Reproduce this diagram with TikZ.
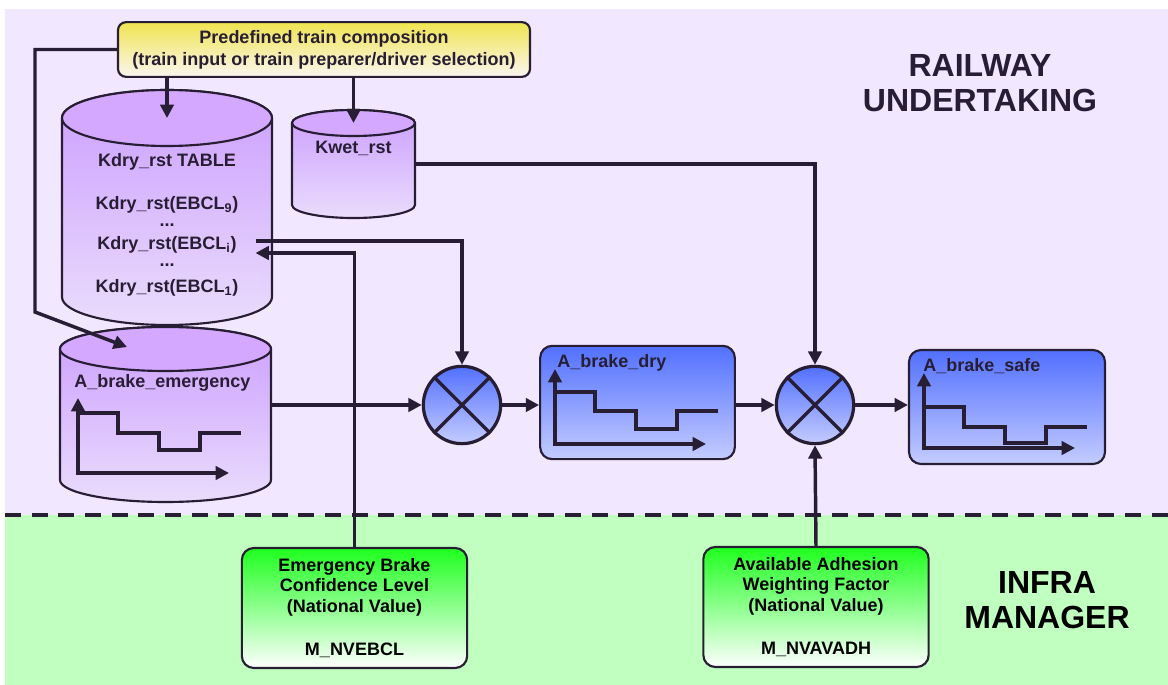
\documentclass[tikz,border=0pt]{standalone}
\usepackage{fontspec}
\setmainfont{Liberation Sans}
\usetikzlibrary{arrows.meta,calc}
\definecolor{ink}{RGB}{40,30,52}
\definecolor{lavbg}{RGB}{241,231,254}
\definecolor{greenbg}{RGB}{192,255,192}
\definecolor{drumtop}{RGB}{204,158,255}
\definecolor{drumbot}{RGB}{234,220,252}
\definecolor{drumlid}{RGB}{212,168,255}
\definecolor{bluetop}{RGB}{82,112,255}
\definecolor{bluebot}{RGB}{196,204,255}
\definecolor{nvtop}{RGB}{30,255,30}
\definecolor{comptop}{RGB}{240,228,80}
\definecolor{compbot}{RGB}{250,246,240}

% drum: name, left x, lid centre y, width, height between lids, lid radius
\newcommand\drum[6]{%
  \node[inner sep=0pt,outer sep=0pt,minimum width=#4*0.75pt,minimum height=#5*0.75pt,
    anchor=north west] (#1) at (#2,#3) {};
  \path[rim,top color=drumtop,bottom color=drumbot] (#1.north west) -- (#1.south west)
    arc[start angle=180,end angle=360,x radius=#4*0.375pt,y radius=#6*0.75pt]
    -- (#1.north east)
    arc[start angle=0,end angle=180,x radius=#4*0.375pt,y radius=#6*0.75pt] -- cycle;
  \draw[rim,fill=drumlid] (#1.north) ellipse[x radius=#4*0.375pt,y radius=#6*0.75pt];}
% step curve: origin, three levels
\newcommand\brakecurve[4]{%
  \draw[axis,<->] ($(#1)+(0,-75)$) |- ($(#1)+(151,0)$);
  \draw[axis] ($(#1)+(0,#2)$) -- ++(40,0) |- ($(#1)+(81,#3)$) |- ($(#1)+(122,#4)$)
    |- ($(#1)+(163,#3)$);}

\begin{document}
\begin{tikzpicture}[x=0.75pt,y=-0.75pt,
  >={Triangle[length=10pt,width=10pt]},
  every node/.style={font=\fontsize{13.5}{15.5}\selectfont\bfseries,text=ink},
  rim/.style={draw=ink,line width=1.6pt},
  flow/.style={draw=ink,line width=2.6pt,->},
  axis/.style={draw=ink,line width=2.6pt},
  curvebox/.style={rim,rounded corners=9pt,top color=bluetop,bottom color=bluebot,inner sep=0pt},
  nvbox/.style={rim,rounded corners=9pt,top color=nvtop,bottom color=white,align=center,
    text=black,minimum width=169pt,minimum height=90pt},
  mult/.style={circle,rim,line width=2.4pt,top color=bluetop,bottom color=bluebot,minimum size=58pt}]
\useasboundingbox (0,0) rectangle (1168,685);
\fill[lavbg] (5,9) rectangle (1168,515);
\fill[greenbg] (5,515) rectangle (1168,685);
\draw[ink,line width=2.6pt,dash pattern=on 12pt off 8pt] (5,515) -- (1168,515);

\node[align=center,font=\fontsize{24}{26}\selectfont\bfseries] (ru) at (980,83) {RAILWAY\\UNDERTAKING};
\node[align=center,font=\fontsize{24}{26}\selectfont\bfseries,text=black] (im) at (1047,600) {INFRA\\MANAGER};

\node[rim,rounded corners=6pt,top color=comptop,bottom color=compbot,align=center,
  minimum width=309pt,minimum height=41pt,inner sep=1pt] (comp) at (324,49.5)
  {Predefined train composition\\[1pt](train input or train preparer/driver selection)};

\drum{kdry}{62}{118}{210}{179}{28}
\node (tbl) at (167,162) {Kdry\_rst TABLE};
\node (ebcl9) at (167,205) {Kdry\_rst(EBCL\textsubscript{9})};
\node (dots1) at (167,225) {...};
\node[inner xsep=14pt] (ebcli) at (167,245) {Kdry\_rst(EBCL\textsubscript{i})};
\node (dots2) at (167,265) {...};
\node (ebcl1) at (167,288) {Kdry\_rst(EBCL\textsubscript{1})};

\drum{kwet}{292}{123}{123}{82}{13}
\node (wetlbl) at (353.5,148) {Kwet\_rst};

\drum{emerg}{60}{349}{211}{131}{22}
\node[anchor=west,inner sep=0pt] (emlbl) at (74,383) {A\_brake\_emergency};
\brakecurve{78,473}{-60}{-40}{-23}

\node[mult] (mul1) at (462,405) {};
\node[mult] (mul2) at (815,405) {};
\foreach \m in {mul1,mul2}
  \draw[axis] (\m.north east) -- (\m.south west) (\m.north west) -- (\m.south east);

\node[curvebox,minimum width=146pt,minimum height=85pt] (dry) at (637.5,402.5) {};
\node[anchor=west,inner sep=0pt] (drylbl) at (557,363) {A\_brake\_dry};
\brakecurve{555,444}{-52}{-33}{-15}

\node[curvebox,minimum width=147pt,minimum height=85.5pt] (safe) at (1007,407) {};
\node[anchor=west,inner sep=0pt] (safelbl) at (923,366) {A\_brake\_safe};
\brakecurve{924,448}{-41}{-21}{-5}

\node[nvbox] (nvebcl) at (354.5,608)
  {Emergency Brake\\Confidence Level\\(National Value)\\[17pt]M\_NVEBCL};
\node[nvbox] (nvavadh) at (816,607)
  {Available Adhesion\\Weighting Factor\\(National Value)\\[17pt]M\_NVAVADH};

% connectors
\coordinate (bend) at (35,312);
\coordinate (emin) at (127,347);
\draw[flow] (comp.west) -| (bend) -- (emin);
\draw[flow] (comp.south -| kdry.north) -- (kdry.north);
\draw[flow] (comp.south -| kwet.north) -- (kwet.north);
\draw[flow] (kwet.east) -| (mul2.north);
\draw[flow] ([yshift=3pt]ebcli.east) -| (mul1.north);
\draw[flow] (nvebcl.north) |- ([yshift=-6pt]ebcli.east);
\draw[flow] (emerg.east |- mul1) -- (mul1.west);
\draw[flow] (mul1.east) -- (mul1 -| dry.west);
\draw[flow] (dry.east |- mul2) -- (mul2.west);
\draw[flow] (mul2.east) -- (mul2 -| safe.west);
\draw[flow] (nvavadh.north) -- (mul2.south);
\end{tikzpicture}
\end{document}
